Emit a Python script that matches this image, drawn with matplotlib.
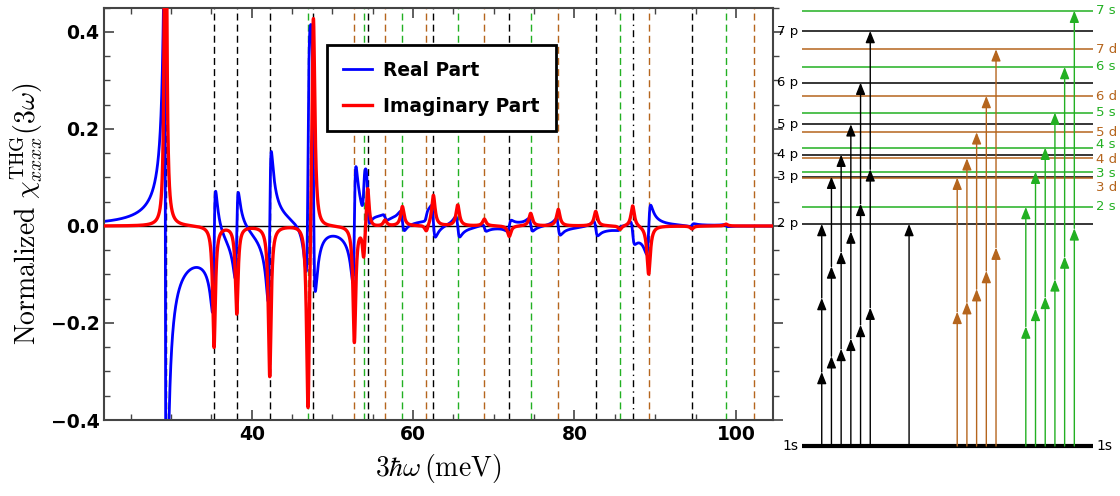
import numpy as np
import matplotlib
matplotlib.use('Agg')
import matplotlib.pyplot as plt
from matplotlib.ticker import MultipleLocator

plt.rcParams['mathtext.fontset'] = 'cm'

# ---- data ----
# resonance lines (3*hbar*omega in meV)
black_lines = [29.34, 35.33, 38.14, 42.23, 47.64, 54.37, 62.51, 71.92, 82.63, 94.56]
green_lines = [46.98, 53.88, 58.67, 65.53, 74.57, 85.64, 98.77]
brown_lines = [52.72, 56.52, 61.64, 68.83, 77.99, 89.19, 102.24]
dashdot_lines = [87.21]

# resonances: centre, peak of imaginary part (signed), half width
res_E = [29.30, 35.33, 38.14, 42.23, 46.98, 47.64, 52.72, 53.88, 54.37, 56.52,
         58.67, 61.64, 62.51, 65.53, 68.83, 71.92, 74.57, 77.99, 82.63, 85.64,
         87.21, 89.19, 94.56, 98.77]
res_peak = [1.55, -0.25, -0.18, -0.31, -0.42, 0.47, -0.24, -0.07, 0.09, 0.012,
            0.04, -0.015, 0.064, 0.043, 0.014, -0.022, 0.026, 0.034, 0.03, -0.008,
            0.043, -0.10, -0.006, 0.004]
res_width = [0.12, 0.20, 0.20, 0.20, 0.22, 0.22, 0.20, 0.20, 0.20, 0.25,
             0.25, 0.25, 0.25, 0.25, 0.25, 0.25, 0.25, 0.25, 0.25, 0.25,
             0.25, 0.25, 0.25, 0.25]
first_low_side_amp = 0.14   # weaker low-energy wing of the 2p resonance

# level diagram (height above 1s, diagram units)
p_names = ['2 p', '3 p', '4 p', '5 p', '6 p', '7 p']
p_y = [222, 269.3, 291.3, 321.7, 363.3, 415]
d_names = ['3 d', '4 d', '5 d', '6 d', '7 d']
d_y = [268.3, 287.7, 313.7, 350, 396.7]
s_names = ['2 s', '3 s', '4 s', '5 s', '6 s', '7 s']
s_y = [239, 274.3, 298.3, 333.3, 379, 435.3]

GREEN = '#22b022'
BROWN = '#b5651d'

# ---- susceptibility from the resonance table ----
E = np.linspace(21.73, 104.6, 30000)
chi = np.zeros_like(E, dtype=complex)
for i, (Ek, P, G) in enumerate(zip(res_E, res_peak, res_width)):
    A = np.full_like(E, P * G)
    if i == 0:
        A[E < Ek] = first_low_side_amp
    chi += A / (Ek - E - 1j * G)

fig = plt.figure(figsize=(11.2, 4.96), dpi=100)
ax = fig.add_axes([104.3 / 1120, 76 / 496, 668.7 / 1120, 412.3 / 496])

dash = (0, (5, 3))
for x in black_lines:
    ax.axvline(x, color='black', lw=1.0, ls=dash, zorder=1)
for x in green_lines:
    ax.axvline(x, color=GREEN, lw=1.0, ls=dash, zorder=1)
for x in brown_lines:
    ax.axvline(x, color=BROWN, lw=1.0, ls=dash, zorder=1)
for x in dashdot_lines:
    ax.axvline(x, color='black', lw=1.0, ls=(0, (5, 3, 1, 3)), zorder=1)
ax.axhline(0, color='black', lw=1.0, zorder=1.5)

ax.plot(E, chi.real, color='#0000ff', lw=2.0, label='Real Part', zorder=2)
ax.plot(E, chi.imag, color='#ff0000', lw=2.4, label='Imaginary Part', zorder=3)

ax.set_xlim(21.73, 104.6)
ax.set_ylim(-0.4, 0.45)
ax.xaxis.set_major_locator(MultipleLocator(20))
ax.xaxis.set_minor_locator(MultipleLocator(5))
ax.yaxis.set_major_locator(MultipleLocator(0.2))
ax.yaxis.set_minor_locator(MultipleLocator(0.05))
ax.tick_params(which='both', direction='in', top=True, right=False,
               color='#444444', labelsize=13.5)
ax.tick_params(which='major', length=7, width=1.2)
ax.tick_params(which='minor', length=4, width=1.0)
for lab in ax.get_xticklabels() + ax.get_yticklabels():
    lab.set_fontweight('bold')
for sp in ax.spines.values():
    sp.set_color('#444444')
    sp.set_linewidth(1.5)

# outward ticks on the right side
axr = ax.twinx()
axr.set_ylim(ax.get_ylim())
axr.yaxis.set_major_locator(MultipleLocator(0.2))
axr.yaxis.set_minor_locator(MultipleLocator(0.05))
axr.tick_params(which='both', direction='out', labelright=False, color='#444444')
axr.tick_params(which='major', length=7, width=1.2)
axr.tick_params(which='minor', length=4, width=1.0)
for sp in axr.spines.values():
    sp.set_visible(False)

ax.set_xlabel(r'$3\hbar\omega\,(\mathrm{meV})$', fontsize=20, labelpad=6)
ax.set_ylabel(r'$\mathrm{Normalized}\ \chi^{\mathrm{THG}}_{xxxx}(3\omega)$',
              fontsize=20, labelpad=4)

leg = ax.legend(loc='upper left', bbox_to_anchor=(0.3326, 0.9095),
                borderaxespad=0, fancybox=False, framealpha=1,
                edgecolor='black', prop={'weight': 'bold', 'size': 13.4},
                handlelength=1.6, handletextpad=0.6, labelspacing=0.9,
                borderpad=0.85)
leg.get_frame().set_linewidth(2)

# ---- level diagram ----
ax2 = fig.add_axes([800 / 1120, 40 / 496, 295 / 1120, 456 / 496])
ax2.set_xlim(0, 30.4)
ax2.set_ylim(-10, 446)
ax2.axis('off')

x0, x1 = 0.17, 30.24
ax2.hlines(0, x0, x1, color='black', lw=3)
ax2.hlines(p_y, x0, x1, color='black', lw=1.1)
ax2.hlines(d_y, x0, x1, color=BROWN, lw=1.1)
ax2.hlines(s_y, x0, x1, color=GREEN, lw=1.1)

fs = 9.5
ax2.text(-0.2, 0, '1s', ha='right', va='center', fontsize=fs + 0.5)
ax2.text(30.5, 0, '1s', ha='left', va='center', fontsize=fs + 0.5)
for name, y in zip(p_names, p_y):
    ax2.text(-0.2, y, name, ha='right', va='center', fontsize=fs)
# nudge the crowded right-hand labels apart
label_shift = {'4 s': 2.7, '4 d': -1.2, '3 s': -1.8, '3 d': -9.8}
for name, y in zip(d_names, d_y):
    ax2.text(30.5, y + label_shift.get(name, 0), name, ha='left', va='center',
             fontsize=fs, color=BROWN)
for name, y in zip(s_names, s_y):
    ax2.text(30.5, y + label_shift.get(name, 0), name, ha='left', va='center',
             fontsize=fs, color=GREEN)


def photon_arrow(x, top, n, color):
    # n equal photon steps from 1s up to the target level
    steps = np.linspace(0, top, n + 1)
    for a, b in zip(steps[:-1], steps[1:]):
        ax2.annotate('', xy=(x, b), xytext=(x, a),
                     arrowprops=dict(arrowstyle='-|>,head_length=0.7,head_width=0.28',
                                     color=color, lw=1.0, shrinkA=0, shrinkB=0))


for i, y in enumerate(p_y):
    photon_arrow(2.24 + i, y, 3, 'black')
photon_arrow(11.24, p_y[0], 1, 'black')
for i, y in enumerate(d_y):
    photon_arrow(16.2 + i, y, 2, BROWN)
for i, y in enumerate(s_y):
    photon_arrow(23.27 + i, y, 2, GREEN)

fig.savefig('out.png', dpi=100)
